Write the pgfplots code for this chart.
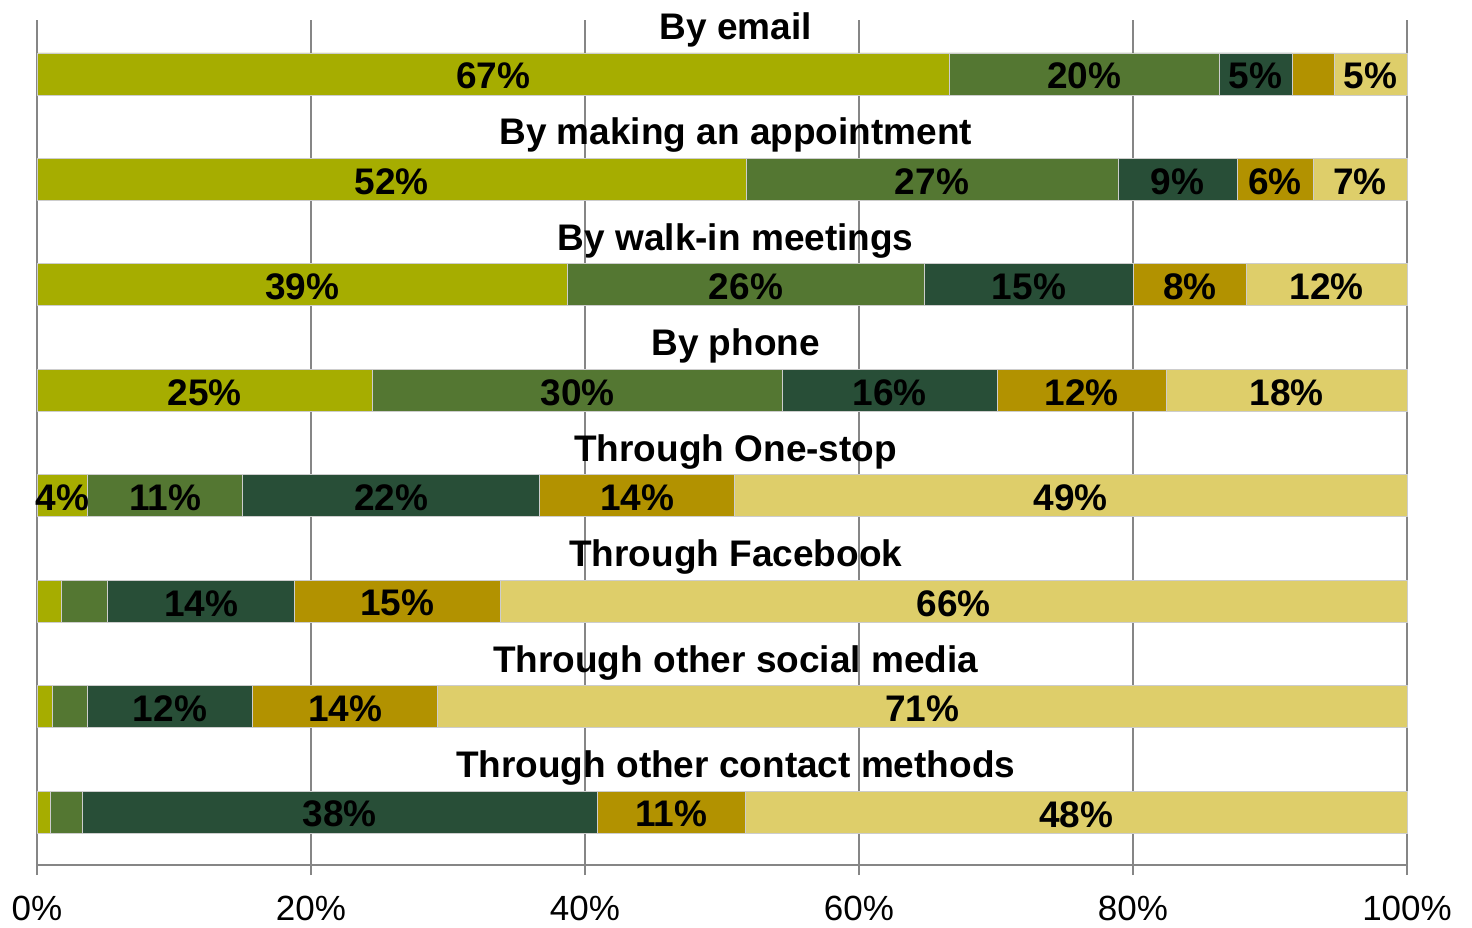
\documentclass[border=0pt]{standalone}
\usepackage{fontspec}
\setmainfont{Liberation Sans}
\usepackage{pgfplots}
\usepackage{pgfplotstable}
\pgfplotsset{compat=1.18}
\definecolor{cA}{RGB}{166,173,0}
\definecolor{cB}{RGB}{84,119,50}
\definecolor{cC}{RGB}{40,78,55}
\definecolor{cD}{RGB}{178,146,0}
\definecolor{cE}{RGB}{222,206,106}
\definecolor{gridc}{RGB}{134,134,134}
\definecolor{edgec}{RGB}{205,205,205}
\newcommand\labfmt[1]{\ifnum#1>0 #1\%\fi}

\pgfplotstableread{
y x lab
0 66.6 67
1 51.75 52
2 38.7 39
3 24.5 25
4 3.7 4
5 1.75 0
6 1.1 0
7 0.95 0
}\serA
\pgfplotstableread{
y x lab
0 19.7 20
1 27.15 27
2 26.1 26
3 29.9 30
4 11.3 11
5 3.4 0
6 2.55 0
7 2.35 0
}\serB
\pgfplotstableread{
y x lab
0 5.3 5
1 8.7 9
2 15.2 15
3 15.7 16
4 21.7 22
5 13.65 14
6 12.1 12
7 37.6 38
}\serC
\pgfplotstableread{
y x lab
0 3.1 0
1 5.55 6
2 8.3 8
3 12.3 12
4 14.2 14
5 15.0 15
6 13.5 14
7 10.8 11
}\serD
\pgfplotstableread{
y x lab
0 5.3 5
1 6.85 7
2 11.7 12
3 17.6 18
4 49.1 49
5 66.2 66
6 70.75 71
7 48.3 48
}\serE

\begin{document}
\begin{tikzpicture}
\begin{axis}[
  name=ax,
  scale only axis,
  width=685pt, height=422.5pt,
  xbar stacked,
  bar width=21pt,
  xmin=0, xmax=100,
  ymin=-0.51, ymax=7.5,
  y dir=reverse,
  axis x line*=bottom,
  axis y line=none,
  axis line style={gridc, line width=1.2pt},
  xtick={0,20,40,60,80,100},
  xticklabels={0\%,20\%,40\%,60\%,80\%,100\%},
  xticklabel style={font=\fontsize{17.5}{20}\selectfont, yshift=-7pt},
  tick align=outside,
  major tick length=5pt,
  tick style={gridc, line width=0.6pt},
  xmajorgrids,
  grid style={gridc, line width=0.8pt},
  ytick=\empty,
  clip=false,
  point meta=explicit symbolic,
  nodes near coords={\labfmt{\pgfplotspointmeta}},
  every node near coord/.append style={anchor=center, black, yshift=-1pt,
     font=\fontsize{18.5}{20}\bfseries\selectfont},
  every axis plot/.append style={draw=edgec, line width=0.3pt},
]
\addplot[fill=cA] table[x=x,y=y,meta=lab] {\serA};
\addplot[fill=cB] table[x=x,y=y,meta=lab] {\serB};
\addplot[fill=cC] table[x=x,y=y,meta=lab] {\serC};
\addplot[fill=cD] table[x=x,y=y,meta=lab] {\serD};
\addplot[fill=cE] table[x=x,y=y,meta=lab] {\serE};
\end{axis}
\begin{axis}[
  scale only axis,
  width=685pt, height=422.5pt,
  xmin=0, xmax=100,
  ymin=-0.51, ymax=7.5,
  y dir=reverse,
  hide axis,
  clip=false,
]
\node[font=\fontsize{18.5}{20}\bfseries\selectfont, yshift=22pt] at (axis cs:51,0) {By email};
\node[font=\fontsize{18.5}{20}\bfseries\selectfont, yshift=22pt] at (axis cs:51,1) {By making an appointment};
\node[font=\fontsize{18.5}{20}\bfseries\selectfont, yshift=22pt] at (axis cs:51,2) {By walk-in meetings};
\node[font=\fontsize{18.5}{20}\bfseries\selectfont, yshift=22pt] at (axis cs:51,3) {By phone};
\node[font=\fontsize{18.5}{20}\bfseries\selectfont, yshift=22pt] at (axis cs:51,4) {Through One-stop};
\node[font=\fontsize{18.5}{20}\bfseries\selectfont, yshift=22pt] at (axis cs:51,5) {Through Facebook};
\node[font=\fontsize{18.5}{20}\bfseries\selectfont, yshift=22pt] at (axis cs:51,6) {Through other social media};
\node[font=\fontsize{18.5}{20}\bfseries\selectfont, yshift=22pt] at (axis cs:51,7) {Through other contact methods};
\end{axis}
\pgfresetboundingbox
\path[use as bounding box] ([xshift=-18.5pt,yshift=-31pt]ax.south west) rectangle ([xshift=32.5pt,yshift=10pt]ax.north east);
\end{tikzpicture}
\end{document}
